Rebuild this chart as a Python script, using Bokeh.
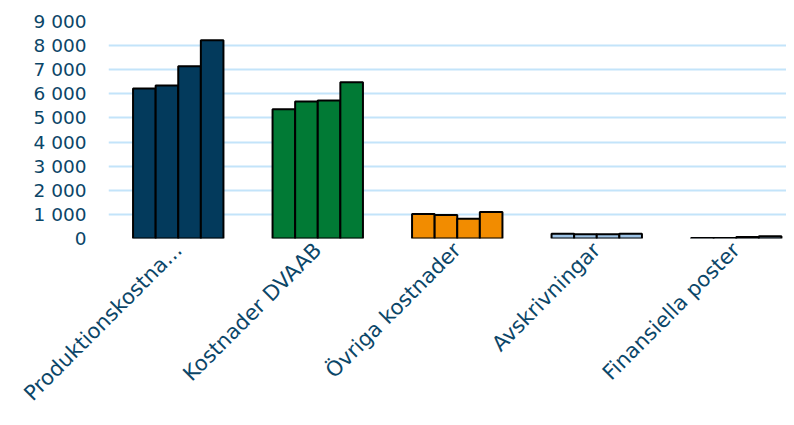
import math
from bokeh.plotting import figure
from bokeh.models import Range1d, FixedTicker, ColumnDataSource
from bokeh.embed import file_html
from bokeh.resources import INLINE

categories = ["Produktionskostna...", "Kostnader DVAAB", "Övriga kostnader",
              "Avskrivningar", "Finansiella poster"]
series_1 = [6220, 5360, 1020, 200, 20]
series_2 = [6350, 5680, 970, 180, 20]
series_3 = [7140, 5720, 820, 180, 60]
series_4 = [8220, 6480, 1100, 200, 90]
category_colors = ["#033a5c", "#017a35", "#f28c00", "#9dc3e6", "#9dc3e6"]
y_ticks = [0, 1000, 2000, 3000, 4000, 5000, 6000, 7000, 8000, 9000]
y_tick_labels = ["0", "1 000", "2 000", "3 000", "4 000", "5 000",
                 "6 000", "7 000", "8 000", "9 000"]

TEXT_COLOR = "#0b4668"
GRID_COLOR = "#c3e4fa"
FONT = "DejaVu Sans"

p = figure(width=786, height=417, output_backend="svg", toolbar_location=None,
           x_range=Range1d(0, 678 / 139.5), y_range=Range1d(0, 9000),
           min_border_left=108, min_border_right=0, min_border_top=21,
           min_border_bottom=179)
p.outline_line_color = None
p.background_fill_color = "white"
p.border_fill_color = "white"

bar_w = 0.162
offsets = [-1.5, -0.5, 0.5, 1.5]
all_series = [series_1, series_2, series_3, series_4]
for off, vals in zip(offsets, all_series):
    src = ColumnDataSource(dict(
        x=[i + 0.5 + off * bar_w for i in range(len(categories))],
        top=vals,
        color=category_colors,
    ))
    p.vbar(x="x", top="top", bottom=0, width=bar_w, source=src,
           fill_color="color", line_color="black", line_width=2)

p.xaxis.ticker = FixedTicker(ticks=[i + 0.5 for i in range(len(categories))])
p.xaxis.major_label_overrides = {i + 0.5: c for i, c in enumerate(categories)}
p.xaxis.major_label_orientation = math.pi / 4
p.xaxis.major_label_text_font = FONT
p.xaxis.major_label_text_font_size = "21px"
p.xaxis.major_label_text_color = TEXT_COLOR
p.xaxis.major_tick_out = 0
p.xaxis.major_tick_in = 0
p.xaxis.major_label_standoff = 8
p.xaxis.axis_line_color = None
p.xaxis.major_tick_line_color = None
p.xaxis.minor_tick_line_color = None

p.yaxis.ticker = FixedTicker(ticks=y_ticks)
p.yaxis.major_label_overrides = {t: l for t, l in zip(y_ticks, y_tick_labels)}
p.yaxis.major_label_text_font = FONT
p.yaxis.major_label_text_font_size = "18.5px"
p.yaxis.major_label_text_color = TEXT_COLOR
p.yaxis.major_tick_out = 0
p.yaxis.major_tick_in = 0
p.yaxis.major_label_standoff = 22
p.yaxis.axis_line_color = None
p.yaxis.major_tick_line_color = None
p.yaxis.minor_tick_line_color = None

p.xgrid.grid_line_color = None
p.ygrid.grid_line_color = GRID_COLOR
p.ygrid.grid_line_width = 2
p.ygrid.ticker = FixedTicker(ticks=y_ticks)

open("out.html", "w").write(file_html(p, INLINE))
